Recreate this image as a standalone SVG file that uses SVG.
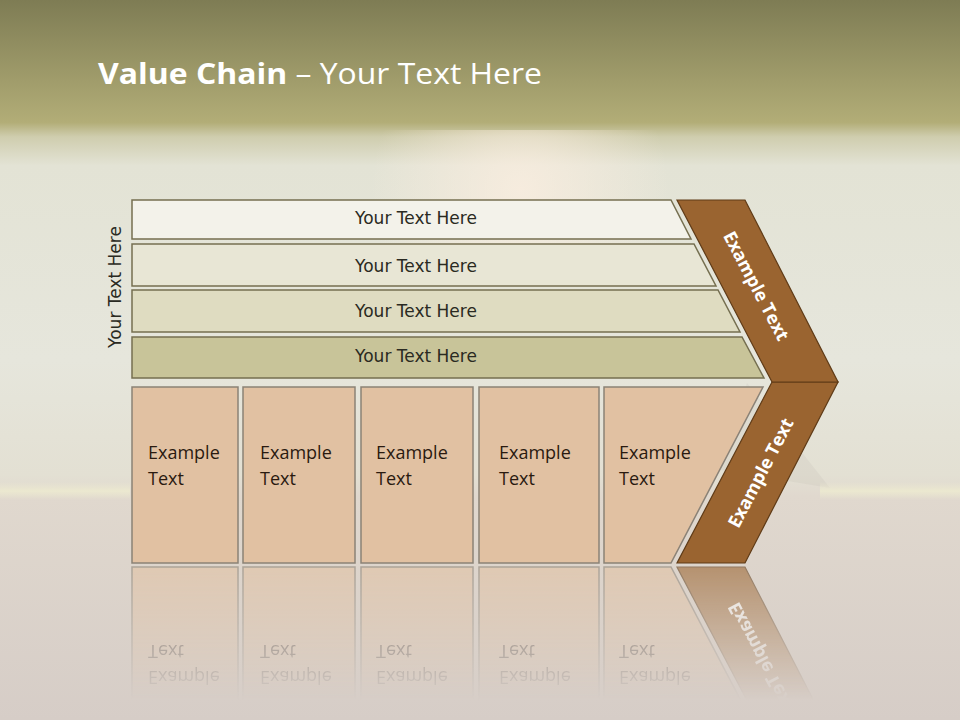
<svg xmlns="http://www.w3.org/2000/svg" xmlns:xlink="http://www.w3.org/1999/xlink" width="960" height="720" viewBox="0 0 960 720">
<defs>
<linearGradient id="bg" x1="0" y1="0" x2="0" y2="720" gradientUnits="userSpaceOnUse">
<stop offset="0" stop-color="#7e7c54"/>
<stop offset="0.17" stop-color="#b2ad77"/>
<stop offset="0.19" stop-color="#cfcdae"/>
<stop offset="0.23" stop-color="#e3e3d5"/>
<stop offset="0.5" stop-color="#e6e6dc"/>
<stop offset="0.66" stop-color="#e3e0d3"/>
<stop offset="0.69" stop-color="#e0d8ce"/>
<stop offset="1" stop-color="#d6cdc7"/>
</linearGradient>
<radialGradient id="glow" cx="520" cy="190" r="150" gradientUnits="userSpaceOnUse">
<stop offset="0" stop-color="#fbeee0" stop-opacity="0.8"/>
<stop offset="1" stop-color="#fbeee0" stop-opacity="0"/>
</radialGradient>
<linearGradient id="hz" x1="0" y1="482" x2="0" y2="500" gradientUnits="userSpaceOnUse">
<stop offset="0" stop-color="#eeecd0" stop-opacity="0"/>
<stop offset="0.5" stop-color="#eeecd0" stop-opacity="0.8"/>
<stop offset="1" stop-color="#eeecd0" stop-opacity="0"/>
</linearGradient>
<linearGradient id="fadeG" x1="0" y1="565" x2="0" y2="700" gradientUnits="userSpaceOnUse">
<stop offset="0" stop-color="#fff" stop-opacity="0.6"/>
<stop offset="1" stop-color="#fff" stop-opacity="0"/>
</linearGradient>
<mask id="fade" maskUnits="userSpaceOnUse" x="0" y="560" width="960" height="160">
<rect x="0" y="560" width="960" height="160" fill="url(#fadeG)"/>
</mask>
<style>
.bar{stroke:#756f50;stroke-width:1.5}
.box{fill:#e1c1a2;stroke:#8b8276;stroke-width:1.5}
.chev{fill:#9a6430;stroke:#5f3b17;stroke-width:1.2}
.bt{font-family:"DejaVu Sans",Verdana,sans-serif;font-size:17px;fill:#2a2a22;text-anchor:middle}
.et{font-family:"Open Sans","Liberation Sans",sans-serif;font-size:18px;fill:#2a1a10}
.ct{font-family:"Open Sans","Liberation Sans",sans-serif;font-size:18px;font-weight:bold;fill:#ffffff;text-anchor:middle}
</style>
</defs>
<rect x="0" y="0" width="960" height="720" fill="url(#bg)"/>
<rect x="370" y="130" width="300" height="130" fill="url(#glow)"/>
<polygon points="747,383 720,470 830,488" fill="#b5b0a8" opacity="0.15"/>
<rect x="0" y="482" width="130" height="18" fill="url(#hz)"/>
<rect x="820" y="482" width="140" height="18" fill="url(#hz)"/>

<text x="98" y="84" font-family="'Open Sans','Liberation Sans',sans-serif" font-size="29" fill="#ffffff" textLength="444" lengthAdjust="spacingAndGlyphs"><tspan font-weight="bold">Value Chain</tspan> – Your Text Here</text>

<g id="side-label">
<text class="bt" transform="translate(121,287) rotate(-90)">Your Text Here</text>
</g>

<g id="bar1"><polygon class="bar" fill="#f3f2ea" points="132,200 671,200 691,239 132,239"/><text class="bt" x="416" y="224">Your Text Here</text></g>
<g id="bar2"><polygon class="bar" fill="#e8e6d5" points="132,244 694,244 716,286 132,286"/><text class="bt" x="416" y="272">Your Text Here</text></g>
<g id="bar3"><polygon class="bar" fill="#dfdcc1" points="132,290 718,290 740,332 132,332"/><text class="bt" x="416" y="317">Your Text Here</text></g>
<g id="bar4"><polygon class="bar" fill="#c8c499" points="132,337 742,337 764,378 132,378"/><text class="bt" x="416" y="362">Your Text Here</text></g>

<g id="boxes">
<g id="box1"><rect class="box" x="132" y="387" width="106" height="176"/><text class="et" x="148" y="459">Example</text><text class="et" x="148" y="485">Text</text></g>
<g id="box2"><rect class="box" x="243" y="387" width="112" height="176"/><text class="et" x="260" y="459">Example</text><text class="et" x="260" y="485">Text</text></g>
<g id="box3"><rect class="box" x="361" y="387" width="112" height="176"/><text class="et" x="376" y="459">Example</text><text class="et" x="376" y="485">Text</text></g>
<g id="box4"><rect class="box" x="479" y="387" width="120" height="176"/><text class="et" x="499" y="459">Example</text><text class="et" x="499" y="485">Text</text></g>
<g id="box5"><polygon class="box" points="604,387 763,387 671,563 604,563"/><text class="et" x="619" y="459">Example</text><text class="et" x="619" y="485">Text</text></g>
<g id="chevron-lower"><polygon class="chev" points="772,382 838,382 745,563 677,563"/><text class="ct" transform="translate(761,473) rotate(-62.4)" dy="6">Example Text</text></g>
</g>

<g id="chevron-upper"><polygon class="chev" points="677,200 745,200 838,382 772,382"/><text class="ct" transform="translate(756,286) rotate(62.4)" dy="6">Example Text</text></g>

<g id="reflection" mask="url(#fade)">
<use xlink:href="#boxes" transform="translate(0,1130) scale(1,-1)"/>
</g>
</svg>
